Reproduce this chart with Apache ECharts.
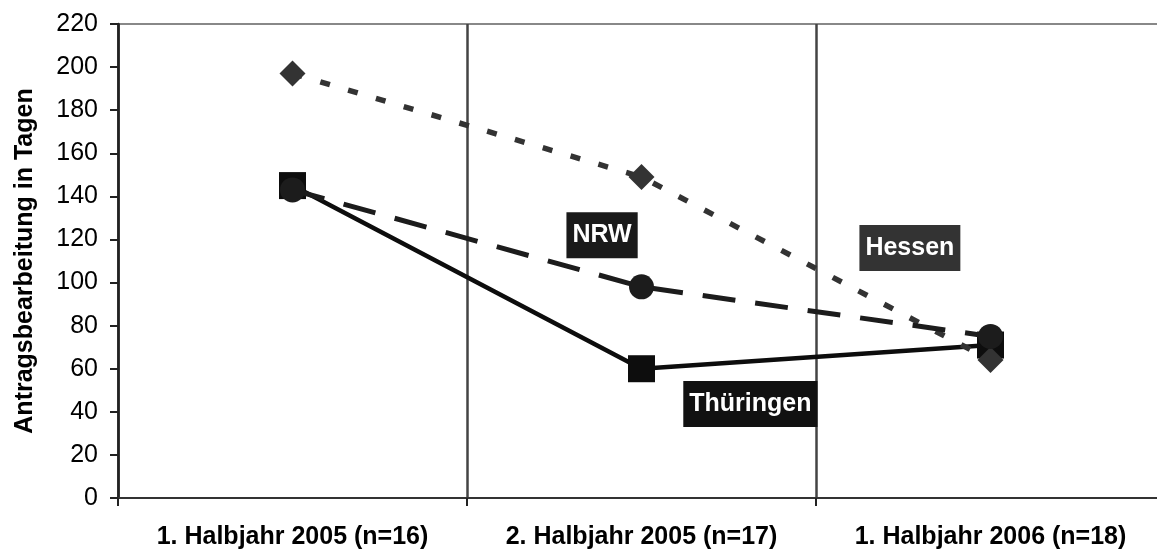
<!DOCTYPE html>
<html>
<head>
<meta charset="utf-8">
<script src="https://cdn.jsdelivr.net/npm/echarts@6/dist/echarts.min.js"></script>
<style>html,body{margin:0;padding:0;background:#fff;overflow:hidden;}#c{width:1165px;height:552px;}</style>
</head>
<body>
<div id="c"></div>
<script>
const categories = ['1. Halbjahr 2005 (n=16)', '2. Halbjahr 2005 (n=17)', '1. Halbjahr 2006 (n=18)'];
const hessen = [197, 149, 64];
const nrw = [143, 98, 75];
const thueringen = [145, 60, 71];
const yTicks = [0, 20, 40, 60, 80, 100, 120, 140, 160, 180, 200, 220];
const labelNames = ['NRW', 'Hessen', 'Thüringen'];
const labelX = [1.387, 2.269, 1.812];
const labelY = [122, 116, 43.6];

const FONT = 'Arial, "Liberation Sans", sans-serif';
const chart = echarts.init(document.getElementById('c'), null, {renderer: 'canvas'});
const labelBg = ['#1a1a1a', '#333333', '#111111'];

chart.setOption({
  animation: false,
  backgroundColor: '#fff',
  grid: {left: 118, top: 24, bottom: 54, right: 0, show: true, borderColor: '#888', borderWidth: 2, backgroundColor: 'transparent'},
  xAxis: [{
    type: 'category', data: categories, boundaryGap: true,
    axisLine: {show: true, lineStyle: {color: '#333', width: 2}},
    axisTick: {show: true, interval: 0, length: 8, lineStyle: {color: '#222', width: 2}},
    axisLabel: {interval: 0, hideOverlap: false, color: '#000', fontFamily: FONT, fontWeight: 'bold', fontSize: 25, margin: 27},
    splitLine: {show: true, interval: 0, lineStyle: {color: '#444', width: 2.5}}
  }, {
    type: 'value', min: 0, max: 3, show: false
  }],
  yAxis: {
    type: 'value', min: 0, max: 220, interval: 20,
    name: 'Antragsbearbeitung in Tagen', nameLocation: 'middle', nameGap: 80,
    nameTextStyle: {color: '#000', fontFamily: FONT, fontWeight: 'bold', fontSize: 25},
    axisLine: {show: true, lineStyle: {color: '#222', width: 2.5}},
    axisTick: {show: true, length: 8, lineStyle: {color: '#222', width: 2}},
    axisLabel: {color: '#000', fontFamily: FONT, fontSize: 25, margin: 20,
      formatter: v => yTicks.indexOf(v) >= 0 ? String(v) : ''},
    splitLine: {show: false}
  },
  series: [{
    name: 'Thüringen', type: 'line', data: thueringen, z: 2,
    symbol: 'rect', symbolSize: 27,
    itemStyle: {color: '#0d0d0d'},
    lineStyle: {color: '#0d0d0d', width: 4.5, type: 'solid'}
  }, {
    name: 'Hessen', type: 'line', data: hessen, z: 3,
    symbol: 'diamond', symbolSize: 26,
    itemStyle: {color: '#333333'},
    lineStyle: {color: '#333333', width: 5.5, type: [10, 19], cap: 'butt'}
  }, {
    name: 'NRW', type: 'line', data: nrw, z: 4,
    symbol: 'circle', symbolSize: 25,
    itemStyle: {color: '#1c1c1c'},
    lineStyle: {color: '#1c1c1c', width: 5, type: [33, 20], cap: 'butt'}
  }, {
    type: 'scatter', xAxisIndex: 1, yAxisIndex: 0, symbolSize: 0, z: 10,
    itemStyle: {opacity: 1},
    data: labelNames.map((n, i) => ({
      value: [labelX[i], labelY[i]], name: n,
      label: {backgroundColor: labelBg[i]}
    })),
    label: {
      show: true, position: 'inside', formatter: p => p.name,
      color: '#fff', fontFamily: FONT, fontWeight: 'bold', fontSize: 25,
      lineHeight: 25, padding: [10.5, 6]
    }
  }]
});
</script>
</body>
</html>
